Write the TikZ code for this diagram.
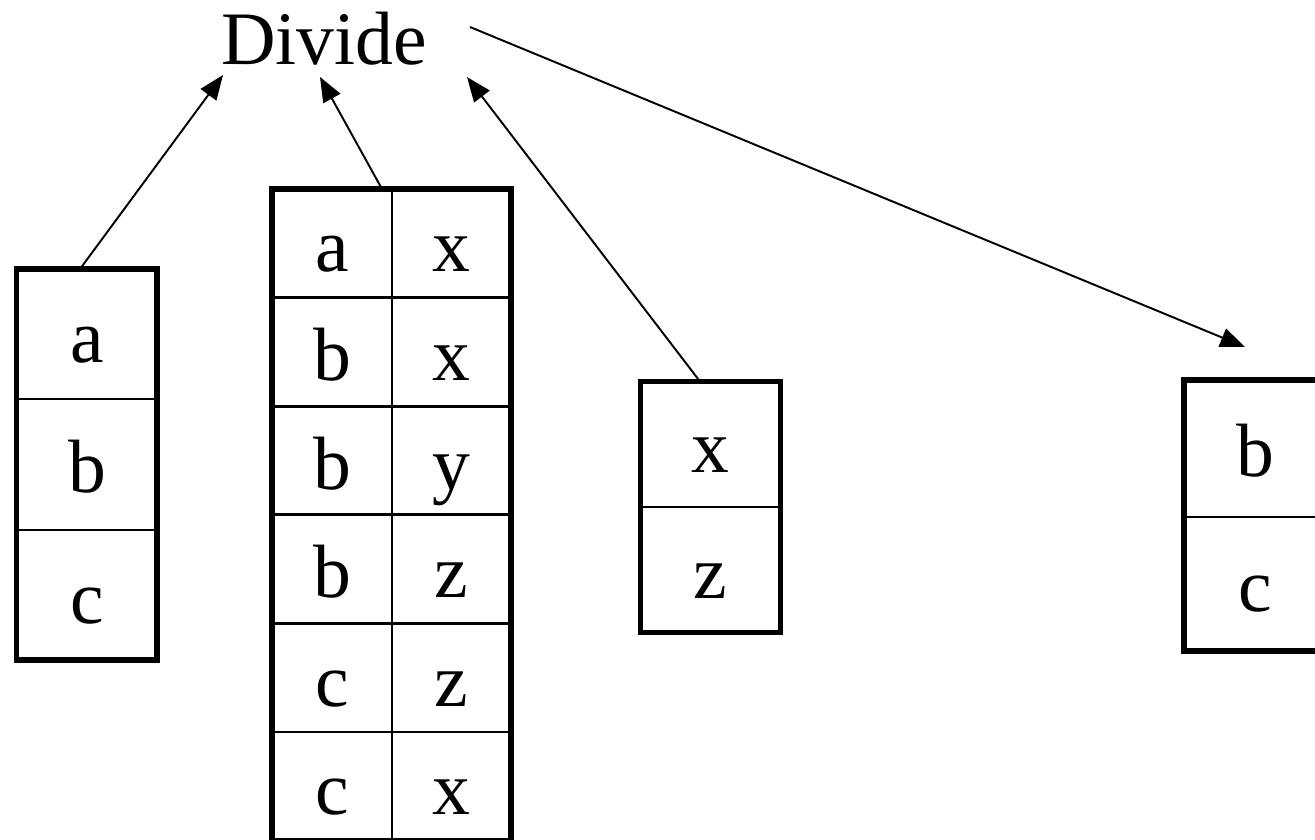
\documentclass[tikz,border=0pt]{standalone}
\usepackage{fontspec}
\setmainfont{Liberation Serif}
\usepackage{xcolor}
\usetikzlibrary{arrows.meta}

\tikzset{
  letra/.style={font=\fontsize{43}{50}\selectfont, anchor=base, inner sep=0pt},
  borde/.style={line width=3.2pt},
  linea/.style={line width=1.5pt},
  flecha/.style={line width=1.1pt, -{Triangle[length=14pt,width=11pt]}}
}

\begin{document}
\begin{tikzpicture}[x=0.02cm,y=-0.02cm]

    % Marco de la imagen
    \useasboundingbox (0,0) rectangle (1315,839);
    \clip (0,0) rectangle (1315,839);

    % Titulo
    \node[letra] (divide) at (324,64) {Divide};

    % Tabla izquierda
    \draw[linea] (16.5,399) -- (157,399) (16.5,530) -- (157,530);
    \draw[borde] (16.5,269) rectangle (157,660);
    \node[letra] (ia) at (87,362) {a};
    \node[letra] (ib) at (87,492) {b};
    \node[letra] (ic) at (87,623) {c};

    % Tabla central
    \draw[linea] (392,189) -- (392,841);
    \draw[linea] (272,297.6) -- (511,297.6) (272,406.2) -- (511,406.2)
                 (272,514.8) -- (511,514.8) (272,623.4) -- (511,623.4)
                 (272,732) -- (511,732);
    \draw[borde] (272,189) rectangle (511,841);
    \node[letra] (ca1) at (332,271) {a};  \node[letra] (cb1) at (451,271) {x};
    \node[letra] (ca2) at (332,380) {b};  \node[letra] (cb2) at (451,380) {x};
    \node[letra] (ca3) at (332,489) {b};  \node[letra] (cb3) at (451,489) {y};
    \node[letra] (ca4) at (332,597) {b};  \node[letra] (cb4) at (451,597) {z};
    \node[letra] (ca5) at (332,706) {c};  \node[letra] (cb5) at (451,706) {z};
    \node[letra] (ca6) at (332,814) {c};  \node[letra] (cb6) at (451,814) {x};

    % Tabla x z
    \draw[linea] (640.5,507) -- (780.5,507);
    \draw[borde] (640.5,381.5) rectangle (780.5,632.5);
    \node[letra] (dx) at (710,472) {x};
    \node[letra] (dz) at (710,598) {z};

    % Tabla derecha (cortada)
    \draw[linea] (1184,517) -- (1327,517);
    \draw[borde] (1184,380) rectangle (1327,651);
    \node[letra] (rb) at (1255,476) {b};
    \node[letra] (rc) at (1255,611) {c};

    % Puntos de las flechas
    \coordinate (sale1) at (80,269);
    \coordinate (sale2) at (382,189);
    \coordinate (sale3) at (700,381.5);
    \coordinate (sale4) at (470,27);
    \coordinate (llega1) at (223,75);
    \coordinate (llega2) at (320,77);
    \coordinate (llega3) at (467,77);
    \coordinate (llega4) at (1245,347);

    % Flechas
    \draw[flecha] (sale1) -- (llega1);
    \draw[flecha] (sale2) -- (llega2);
    \draw[flecha] (sale3) -- (llega3);
    \draw[flecha] (sale4) -- (llega4);

\end{tikzpicture}
\end{document}
